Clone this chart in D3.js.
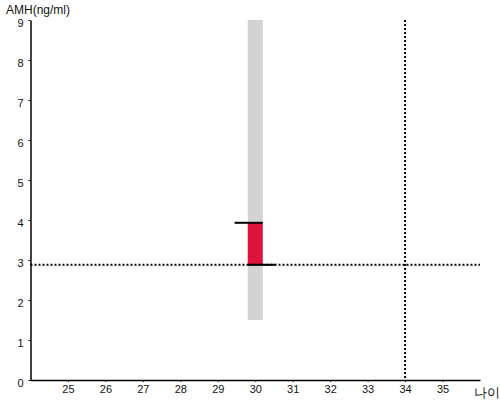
<!DOCTYPE html>
<html><head><meta charset="utf-8">
<script src="https://cdn.jsdelivr.net/npm/d3@7"></script>
<style>body{margin:0;background:#fff}svg{display:block}text{font-family:"Liberation Sans",Arial,sans-serif}</style>
</head><body><svg id="c" width="500" height="400"></svg>
<script>
const xTicks = [25,26,27,28,29,30,31,32,33,34,35];
const yTicks = [0,1,2,3,4,5,6,7,8,9];
const ageRange = [24, 36];
const amhRange = [0, 9];
const bandAge = [29.8, 30.2];
const bandAmh = [1.5, 9];
const barAge = [29.8, 30.2];
const barAmh = [2.88, 3.93];
const topLineAge = [29.45, 30.2];
const bottomLineAge = [29.8, 30.55];
const refAge = 34;
const refAmh = 2.88;
const yTitle = "AMH(ng/ml)";
const xTitle = "나이";

const svg = d3.select("#c");
const x = d3.scaleLinear().domain(ageRange).range([30.5, 480]);
const y = d3.scaleLinear().domain(amhRange).range([380, 20]);

svg.append("rect").attr("x", x(bandAge[0])).attr("width", x(bandAge[1]) - x(bandAge[0]))
  .attr("y", y(bandAmh[1])).attr("height", y(bandAmh[0]) - y(bandAmh[1])).attr("fill", "#d3d3d3");
svg.append("rect").attr("x", x(barAge[0])).attr("width", x(barAge[1]) - x(barAge[0]))
  .attr("y", y(barAmh[1])).attr("height", y(barAmh[0]) - y(barAmh[1])).attr("fill", "#dc143c");
svg.append("line").attr("x1", x(topLineAge[0])).attr("x2", x(topLineAge[1]))
  .attr("y1", y(barAmh[1])).attr("y2", y(barAmh[1])).attr("stroke", "#000").attr("stroke-width", 2);
svg.append("line").attr("x1", x(bottomLineAge[0])).attr("x2", x(bottomLineAge[1]))
  .attr("y1", y(barAmh[0])).attr("y2", y(barAmh[0])).attr("stroke", "#000").attr("stroke-width", 2);

// dotted reference lines
svg.append("line").attr("x1", x(ageRange[0])).attr("x2", x(ageRange[1]))
  .attr("y1", y(refAmh)).attr("y2", y(refAmh)).attr("stroke", "#000").attr("stroke-width", 2).attr("stroke-dasharray", "2,2");
svg.append("line").attr("x1", x(refAge)).attr("x2", x(refAge))
  .attr("y1", y(amhRange[1])).attr("y2", y(amhRange[0])).attr("stroke", "#000").attr("stroke-width", 2).attr("stroke-dasharray", "2,2");

const xa = svg.append("g").attr("transform", "translate(0,380)")
  .call(d3.axisBottom(x).tickValues(xTicks).tickSize(2).tickSizeOuter(0).tickPadding(3));
const ya = svg.append("g").attr("transform", "translate(30.5,0)")
  .call(d3.axisLeft(y).tickValues(yTicks).tickSize(2).tickSizeOuter(0).tickPadding(5));
[xa, ya].forEach(g => {
  g.select(".domain").attr("stroke", "#000").attr("stroke-width", 1.5);
  g.selectAll("text").attr("font-size", 11).attr("fill", "#111").attr("font-family", '"Liberation Sans",Arial,sans-serif');
});
ya.selectAll("text").attr("dy", "0.55em");
svg.append("text").attr("x", 6).attr("y", 14).attr("font-size", 12).attr("fill", "#111").text(yTitle);
svg.append("text").attr("x", 474).attr("y", 397).attr("font-size", 13).attr("fill", "#111")
  .attr("font-family", '"Noto Sans CJK KR",sans-serif').text(xTitle);
</script></body></html>
